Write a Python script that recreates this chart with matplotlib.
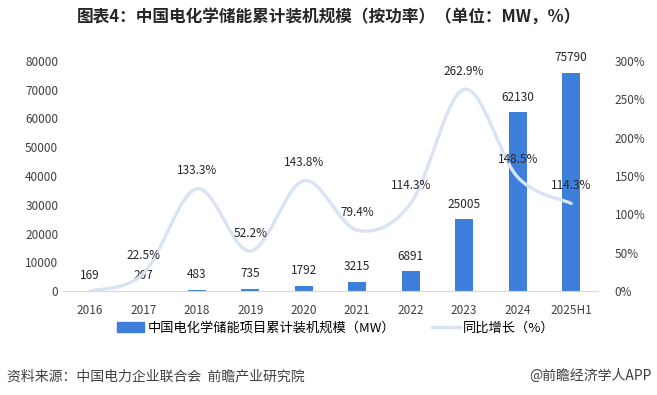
import numpy as np
import matplotlib
matplotlib.use("Agg")
import matplotlib.pyplot as plt
from matplotlib.lines import Line2D
from matplotlib.patches import Patch

plt.rcParams['font.family'] = ['Noto Sans CJK SC', 'DejaVu Sans']

# 数据
years = ['2016', '2017', '2018', '2019', '2020', '2021', '2022', '2023', '2024', '2025H1']
capacity = [169, 207, 483, 735, 1792, 3215, 6891, 25005, 62130, 75790]
growth = [0.0, 22.5, 133.3, 52.2, 143.8, 79.4, 114.3, 262.9, 148.5, 114.3]
growth_labels = ['', '22.5%', '133.3%', '52.2%', '143.8%', '79.4%', '114.3%', '262.9%', '148.5%', '114.3%']

bar_color = '#3E7FDC'
line_color = '#DAE3F3'

# 类似Excel的平滑曲线（贝塞尔）
def smooth(x, y, n=30):
    x = np.asarray(x, float)
    y = np.asarray(y, float)
    pts = np.column_stack([x, y])
    out = []
    for i in range(len(pts) - 1):
        p0 = pts[max(i - 1, 0)]
        p1 = pts[i]
        p2 = pts[i + 1]
        p3 = pts[min(i + 2, len(pts) - 1)]
        c1 = p1 + (p2 - p0) / 6
        c2 = p2 - (p3 - p1) / 6
        t = np.linspace(0, 1, n)[:, None]
        seg = (1 - t) ** 3 * p1 + 3 * (1 - t) ** 2 * t * c1 + 3 * (1 - t) * t ** 2 * c2 + t ** 3 * p2
        out.append(seg if i == 0 else seg[1:])
    out = np.vstack(out)
    return out[:, 0], out[:, 1]

fig = plt.figure(figsize=(6.57, 3.95), dpi=100)
ax = fig.add_axes([0.096, 0.263, 0.814, 0.583])
x = np.arange(len(years))

ax.bar(x, capacity, width=0.34, color=bar_color, zorder=2)
for xi, v in zip(x, capacity):
    ax.text(xi, v + 3000, str(v), ha='center', va='bottom', fontsize=8.5, color='#262626')

ax.set_ylim(0, 80000)
ax.set_xlim(-0.5, len(years) - 0.5)
ax.set_yticks(np.arange(0, 80001, 10000))
ax.set_xticks(x)
ax.set_xticklabels(years)
ax.tick_params(length=0, labelsize=8.5, colors='#404040')
ax.tick_params(axis='x', pad=9)
for s in ['top', 'right', 'left']:
    ax.spines[s].set_visible(False)
ax.spines['bottom'].set_color('#D9D9D9')

ax2 = ax.twinx()
sx, sy = smooth(x, growth)
ax2.plot(sx, sy, color=line_color, lw=2.4, solid_capstyle='round', zorder=3)
for xi, v, lab in zip(x, growth, growth_labels):
    if lab:
        ax2.text(xi, v + 15, lab, ha='center', va='bottom', fontsize=8.5, color='#262626')
ax2.set_ylim(0, 300)
ax2.set_yticks(np.arange(0, 301, 50))
ax2.set_yticklabels([f'{v}%' for v in range(0, 301, 50)])
ax2.tick_params(length=0, labelsize=8.5, colors='#404040', pad=12)
for s in ['top', 'right', 'left', 'bottom']:
    ax2.spines[s].set_visible(False)

handles = [Patch(color=bar_color), Line2D([0], [0], color=line_color, lw=2.4)]
fig.legend(handles, ['中国电化学储能项目累计装机规模（MW）', '同比增长（%）'],
           loc='center', bbox_to_anchor=(0.511, 1 - 328 / 395), ncol=2, frameon=False,
           fontsize=9.5, handlelength=2.1, columnspacing=2.8, handletextpad=0.25)

fig.text(0.5, 1 - 18 / 395, '图表4：中国电化学储能累计装机规模（按功率）（单位：MW，%）',
         ha='center', va='center', fontsize=12, fontweight='bold', color='#262626')
fig.text(7 / 657, 1 - 376 / 395, '资料来源：中国电力企业联合会  前瞻产业研究院',
         ha='left', va='center', fontsize=10, color='#404040')
fig.text(652 / 657, 1 - 376 / 395, '@前瞻经济学人APP',
         ha='right', va='center', fontsize=10, color='#404040')

fig.savefig('out.png', dpi=100)
